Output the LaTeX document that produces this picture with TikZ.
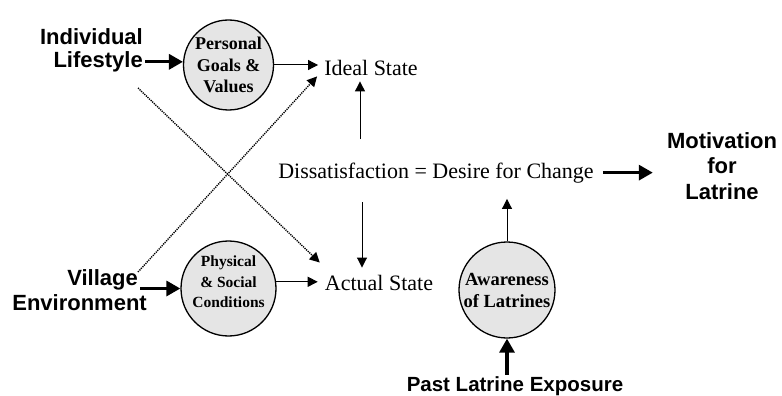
\documentclass[tikz,border=0pt]{standalone}
\usepackage{fontspec}
\setmainfont{Liberation Serif}
\setsansfont{Liberation Sans}
\usetikzlibrary{arrows.meta}
\begin{document}
\begin{tikzpicture}[x=1pt,y=-1pt,
  circ/.style={circle,draw,line width=1.3pt,fill=gray!20,inner sep=0pt,minimum size=90pt,align=center},
  sanslab/.style={font=\sffamily\bfseries\fontsize{22}{23}\selectfont,inner sep=0pt},
  serlab/.style={font=\fontsize{22}{24}\selectfont,inner sep=0pt},
  thinarrow/.style={line width=1pt,-{Triangle[length=10pt,width=10pt]}},
  thickarrow/.style={line width=3.2pt,-{Triangle[length=14pt,width=15pt]}},
  dotarrow/.style={line width=1.4pt,dash pattern=on 1.2pt off 1pt,-{Triangle[length=10pt,width=10pt]}}]
\useasboundingbox (0,0) rectangle (782,396);

% circles
\node[circ,font=\bfseries\fontsize{18}{21.5}\selectfont] (personal) at (228.5,65) {Personal\\Goals \&\\Values};
\node[circ,minimum size=91pt,font=\bfseries\fontsize{15.5}{20.5}\selectfont] (phys) at (228.5,288.5)
  {\raisebox{5.5pt}[\height][\depth]{\begin{tabular}{@{}c@{}}Physical\\\& Social\\Conditions\end{tabular}}};
\node[circ,minimum size=96pt,font=\bfseries\fontsize{18.5}{22}\selectfont] (aware) at (507,290) {Awareness\\of Latrines};

% sans labels
\node[sanslab,anchor=north east,align=right] (indiv) at (143,28) {Individual\\Lifestyle};
\node[sanslab,font=\sffamily\bfseries\fontsize{22}{25}\selectfont,anchor=north east,align=right] (village) at (147,269) {Village\hspace*{9pt}\\Environment};
\node[sanslab,font=\sffamily\bfseries\fontsize{22}{25.5}\selectfont,anchor=north,align=center] (motiv) at (722,132) {Motivation\\for\\Latrine};
\node[sanslab,font=\sffamily\bfseries\fontsize{20.5}{22}\selectfont,anchor=base] (past) at (515,391) {Past Latrine Exposure};

% serif labels
\node[serlab,anchor=base] (ideal) at (371,76) {Ideal State};
\node[serlab,anchor=base] (dissat) at (436,178) {Dissatisfaction = Desire for Change};
\node[serlab,anchor=base] (actual) at (379,290) {Actual State};

% helper coordinates
\coordinate (lifeR) at ([xshift=2pt]indiv.east);
\coordinate (villR) at ([xshift=-7pt]village.east);
\coordinate (upS) at (360,139);
\coordinate (dnS) at (362,202);
\coordinate (dotA) at (138,88);
\coordinate (dotB) at (138,272);

% thick arrows
\draw[thickarrow] (lifeR |- personal.176) -- (personal.176);
\draw[thickarrow] (villR |- phys.west) -- (phys.west);
\draw[thickarrow,shorten <=9pt,shorten >=14pt] (dissat.east) -- (dissat.east -| motiv.west);
\draw[thickarrow,shorten <=1pt] (past.north -| aware.south) -- (aware.south);

% thin arrows
\draw[thinarrow,shorten >=6pt] (personal.east) -- (personal.east -| ideal.west);
\draw[thinarrow,shorten >=7pt] (phys.8) -- (phys.8 -| actual.west);
\draw[thinarrow,shorten >=5pt] (upS) -- (upS |- ideal.south);
\draw[thinarrow,shorten >=7pt] (dnS) -- (dnS |- actual.north);
\draw[thinarrow,shorten >=16pt] (aware.north) -- (aware.north |- dissat.south);

% dotted arrows
\draw[dotarrow] (dotA) -- ([xshift=-5pt,yshift=12pt]actual.north west);
\draw[dotarrow] (dotB) -- ([xshift=-7pt]ideal.south west);
\end{tikzpicture}
\end{document}
